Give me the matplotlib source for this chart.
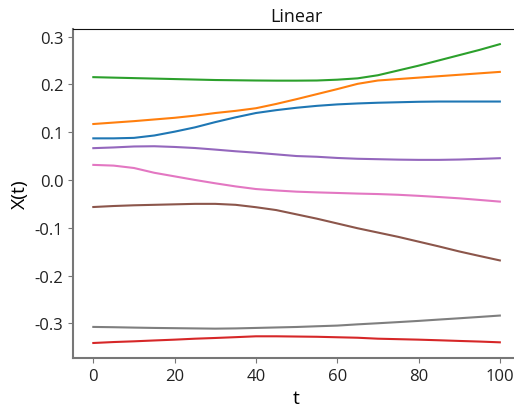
import matplotlib.pyplot as plt

# -----------------------------
# Values
# -----------------------------

t = [0, 5, 10, 15, 20, 25, 30, 35, 40, 45, 50, 55, 60, 65, 70, 75, 80, 85, 90, 95, 100]

x_blue = [0.087, 0.087, 0.088, 0.093, 0.101, 0.110, 0.121, 0.131, 0.140, 0.146, 0.151,
          0.155, 0.158, 0.160, 0.1615, 0.1625, 0.1635, 0.164, 0.164, 0.164, 0.164]
x_orange = [0.117, 0.120, 0.123, 0.1265, 0.130, 0.1345, 0.140, 0.1445, 0.150, 0.159, 0.169,
            0.1795, 0.190, 0.201, 0.208, 0.211, 0.214, 0.217, 0.220, 0.223, 0.226]
x_green = [0.215, 0.214, 0.213, 0.212, 0.211, 0.210, 0.209, 0.2085, 0.208, 0.2077, 0.2077,
           0.208, 0.2097, 0.2125, 0.219, 0.229, 0.239, 0.250, 0.261, 0.272, 0.284]
x_red = [-0.341, -0.339, -0.3375, -0.3357, -0.334, -0.332, -0.3305, -0.3288, -0.327, -0.327, -0.3275,
         -0.328, -0.329, -0.330, -0.332, -0.333, -0.334, -0.3353, -0.3367, -0.338, -0.3396]
x_purple = [0.0665, 0.068, 0.070, 0.0705, 0.069, 0.0668, 0.0635, 0.060, 0.057, 0.0535, 0.050,
            0.0485, 0.046, 0.0443, 0.0434, 0.0425, 0.042, 0.042, 0.0427, 0.044, 0.0455]
x_brown = [-0.0566, -0.0545, -0.053, -0.052, -0.051, -0.050, -0.050, -0.052, -0.057, -0.063, -0.072,
           -0.081, -0.091, -0.101, -0.110, -0.119, -0.129, -0.139, -0.1495, -0.159, -0.1683]
x_pink = [0.0315, 0.030, 0.025, 0.015, 0.0075, 0.0, -0.007, -0.0135, -0.019, -0.022, -0.0245,
          -0.026, -0.0272, -0.0285, -0.0295, -0.031, -0.0332, -0.0357, -0.0384, -0.0418, -0.0453]
x_gray = [-0.3074, -0.308, -0.3088, -0.3095, -0.310, -0.3105, -0.311, -0.3105, -0.3095, -0.3085, -0.3075,
          -0.306, -0.3046, -0.302, -0.2997, -0.2973, -0.2948, -0.292, -0.2893, -0.2865, -0.2836]

series = [x_blue, x_orange, x_green, x_red, x_purple, x_brown, x_pink, x_gray]

# -----------------------------
# Plot
# -----------------------------

plt.rcParams["font.family"] = ["Open Sans", "DejaVu Sans"]

fig = plt.figure(figsize=(5.14, 4.14), dpi=100)
ax = fig.add_axes([0.142, 0.133, 0.87, 0.794])

for i, values in enumerate(series):
    ax.plot(t, values, color=f"C{i}", linewidth=1.5)

ax.set_title("Linear", fontsize=13, color="#111111")
ax.set_xlabel("t", fontsize=14)
ax.set_ylabel("X(t)", fontsize=14)

ax.set_xticks([0, 20, 40, 60, 80, 100])
ax.set_yticks([-0.3, -0.2, -0.1, 0.0, 0.1, 0.2, 0.3])
ax.set_yticklabels(["-0.3", "-0.2", "-0.1", "0.0", "0.1", "0.2", "0.3"])
ax.tick_params(labelsize=12, colors="#777777", labelcolor="#222222")

for side in ["left", "bottom"]:
    ax.spines[side].set_color("#777777")
    ax.spines[side].set_linewidth(1.5)
ax.spines["top"].set_color("#111111")

fig.savefig("out.png", dpi=100)
